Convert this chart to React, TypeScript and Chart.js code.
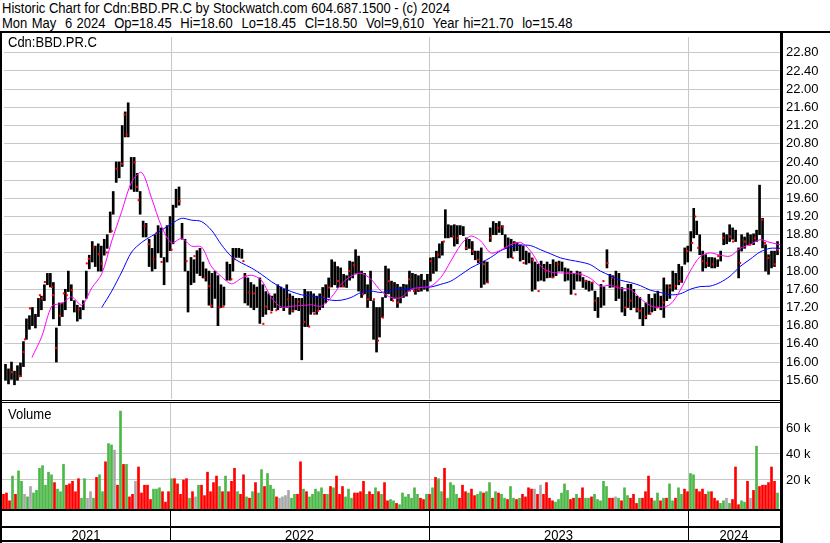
import React, { useEffect, useRef } from "react";
import { Chart, registerables } from "chart.js";
Chart.register(...registerables);

const TITLE = "Historic Chart for Cdn:BBD.PR.C by Stockwatch.com 604.687.1500 - (c) 2024";
const QUOTE = "Mon May  6 2024  Op=18.45  Hi=18.60  Lo=18.45  Cl=18.50  Vol=9,610  Year hi=21.70  lo=15.48";
const SYMBOL = "Cdn:BBD.PR.C";
const VOLUME_LABEL = "Volume";

// x axis in trading-day units
const DAY_MAX = 778;
const BAR_STEP = 3;
const YEAR_STARTS = [0, 168, 427, 686];
const YEAR_LABELS = ["2021", "2022", "2023", "2024"];

const PRICE_MIN = 15.188;
const PRICE_MAX = 23.147;
const PRICE_TICKS = [15.6, 16.0, 16.4, 16.8, 17.2, 17.6, 18.0, 18.4, 18.8, 19.2, 19.6, 20.0, 20.4, 20.8, 21.2, 21.6, 22.0, 22.4, 22.8];
const VOL_MIN = -2310;
const VOL_MAX = 79230;
const VOL_TICKS = [20000, 40000, 60000];

const lows = [
  15.60, 15.52, 15.62, 15.50, 15.60, 15.68, 15.90, 16.50, 16.72, 16.80,
  16.75, 17.00, 17.15, 17.35, 17.70, 17.65, 16.95, 16.00, 16.80, 17.00,
  17.15, 17.55, 17.35, 17.10, 16.90, 16.95, 17.15, 17.40, 18.05, 18.20,
  18.10, 18.00, 18.00, 18.35, 18.50, 18.85, 19.25, 19.95, 20.05, 20.30,
  20.95, 20.95, 19.80, 19.75, 19.75, 19.25, 18.75, 18.75, 18.10, 18.00,
  18.05, 18.40, 18.30, 17.70, 18.20, 18.45, 18.60, 19.40, 19.45, 18.70,
  18.00, 17.10, 17.70, 17.75, 17.95, 17.90, 17.85, 17.78, 17.25, 17.20,
  17.40, 16.80, 17.20, 17.25, 17.80, 17.80, 18.00, 18.30, 18.30, 18.28,
  17.30, 17.25, 17.20, 17.15, 17.20, 16.85, 17.00, 17.05, 17.15, 17.13,
  17.20, 17.15, 17.20, 17.13, 17.20, 17.05, 17.10, 17.15, 17.13, 16.05,
  16.78, 16.78, 17.05, 17.10, 17.05, 17.15, 17.20, 17.30, 17.42, 17.65,
  17.70, 17.64, 17.65, 17.65, 17.64, 17.80, 17.85, 17.95, 17.56, 17.42,
  17.50, 17.20, 17.35, 16.50, 16.22, 16.55, 16.98, 17.42, 17.50, 17.35,
  17.40, 17.20, 17.30, 17.42, 17.45, 17.56, 17.60, 17.49, 17.55, 17.56,
  17.60, 17.56, 17.78, 17.95, 18.00, 18.29, 18.35, 18.73, 18.73, 18.75,
  18.55, 18.60, 18.80, 18.78, 18.47, 18.50, 18.36, 18.25, 18.18, 17.64,
  17.71, 17.75, 18.65, 18.80, 18.80, 18.85, 18.80, 18.51, 18.29, 18.30,
  18.44, 18.45, 18.22, 18.25, 18.15, 18.18, 17.56, 17.60, 17.78, 17.80,
  17.78, 17.85, 17.86, 17.86, 17.90, 18.00, 18.00, 17.78, 17.80, 17.49,
  17.60, 17.78, 17.78, 17.64, 17.60, 17.56, 17.58, 17.13, 16.98, 17.20,
  17.25, 18.07, 17.64, 17.65, 17.35, 17.40, 17.10, 17.02, 17.20, 17.15,
  17.20, 17.10, 16.95, 16.80, 16.95, 17.05, 17.10, 17.13, 17.20, 17.15,
  16.98, 17.35, 17.40, 17.56, 17.60, 17.70, 17.75, 18.15, 18.20, 18.44,
  18.73, 18.80, 18.36, 18.00, 18.07, 18.10, 18.07, 18.07, 18.10, 18.22,
  18.58, 18.60, 18.65, 18.70, 18.65, 17.85, 18.44, 18.50, 18.58, 18.60,
  18.58, 18.65, 18.80, 18.51, 18.00, 17.93, 18.07, 18.10, 18.36,
];

const highs = [
  15.95, 15.85, 16.00, 15.80, 15.92, 15.98, 16.45, 16.95, 17.02, 17.20,
  17.05, 17.40, 17.45, 17.70, 17.95, 17.95, 17.75, 16.75, 17.30, 17.30,
  17.60, 18.00, 17.70, 17.35, 17.25, 17.20, 17.35, 18.00, 18.35, 18.65,
  18.55, 18.60, 18.55, 18.70, 18.80, 19.30, 19.75, 20.40, 20.40, 21.20,
  21.50, 21.70, 20.50, 20.50, 20.15, 19.75, 19.10, 19.05, 18.70, 18.50,
  18.80, 19.00, 18.95, 18.30, 19.00, 19.20, 19.45, 19.80, 19.85, 19.05,
  18.70, 18.00, 18.30, 18.25, 18.45, 18.50, 18.20, 18.05, 18.00, 17.95,
  18.00, 17.90, 17.70, 17.65, 18.20, 18.15, 18.50, 18.50, 18.50, 18.48,
  17.95, 17.85, 17.75, 17.70, 17.65, 17.85, 17.70, 17.55, 17.50, 17.45,
  17.50, 17.70, 17.65, 17.60, 17.70, 17.50, 17.45, 17.40, 17.40, 17.40,
  17.60, 17.55, 17.55, 17.50, 17.45, 17.50, 17.64, 17.70, 17.85, 18.25,
  18.20, 18.10, 18.07, 17.93, 17.90, 18.22, 18.20, 18.47, 18.33, 18.00,
  17.95, 17.70, 18.00, 17.35, 17.20, 17.20, 17.42, 18.11, 18.05, 17.78,
  17.75, 17.71, 17.65, 17.71, 17.70, 18.00, 17.95, 17.93, 17.90, 17.93,
  17.80, 17.93, 18.29, 18.30, 18.44, 18.60, 18.65, 19.35, 19.02, 19.00,
  19.02, 19.00, 19.00, 18.98, 18.73, 18.70, 18.65, 18.44, 18.44, 18.51,
  18.22, 18.20, 18.95, 19.09, 19.05, 19.09, 19.00, 18.80, 18.73, 18.70,
  18.65, 18.62, 18.58, 18.55, 18.44, 18.40, 18.29, 18.20, 18.15, 18.22,
  18.15, 18.20, 18.15, 18.25, 18.20, 18.22, 18.20, 18.07, 18.05, 18.00,
  17.95, 18.00, 17.98, 17.86, 17.80, 17.78, 17.75, 17.56, 17.42, 17.71,
  17.65, 18.47, 17.93, 17.90, 18.00, 17.95, 17.64, 17.55, 17.71, 17.71,
  17.60, 17.45, 17.42, 17.20, 17.30, 17.49, 17.40, 17.50, 17.56, 17.45,
  17.85, 17.70, 17.70, 18.00, 17.95, 18.15, 18.10, 18.51, 18.55, 18.87,
  19.38, 19.10, 18.80, 18.44, 18.36, 18.30, 18.30, 18.29, 18.25, 18.44,
  18.84, 18.80, 19.02, 18.95, 18.90, 18.51, 18.80, 18.75, 18.84, 18.80,
  18.82, 18.90, 19.89, 19.16, 18.58, 18.36, 18.44, 18.44, 18.65,
];

// red close markers: trading-day position and price
const markDays = [
  8, 16, 20, 21, 26, 36, 38, 41, 48, 49, 52, 56, 60, 63, 68, 75, 83, 85, 90, 95,
  98, 103, 108, 113, 118, 121, 123, 131, 133, 135, 141, 145, 150, 153,
  158, 168, 176, 183, 191, 201, 206, 208, 216, 220, 228, 231, 240, 242, 246, 251,
  260, 263, 268, 273, 285, 290, 295, 301, 306, 311, 315,
  321, 326, 335, 340, 346, 351, 360, 365, 371, 375, 380, 386, 390, 395, 406, 411,
  416, 428, 435, 441, 450, 455, 463, 470, 475,
  481, 485, 488, 495, 500, 503, 510, 513, 521, 530, 536, 543, 550, 555, 565, 573,
  578, 583, 590, 593, 601, 605, 610, 615, 623, 628, 635,
  638, 643, 648, 655, 661, 668, 673, 678, 685, 690, 693, 696, 700, 705, 711, 716,
  721, 728, 731, 738, 743, 748, 753, 760, 763, 766, 773, 776,
];
const markPrices = [
  15.78, 15.69, 16.22, 16.50, 17.18, 17.47, 17.40, 17.76, 17.65, 17.47, 16.31, 17.02, 17.51, 17.47, 17.58, 17.15, 18.17, 18.27, 18.52, 18.37,
  18.16, 18.41, 18.88, 20.25, 20.36, 21.44, 21.00, 20.39, 19.85, 19.56, 18.99, 18.59, 18.27, 18.84,
  18.20, 18.47, 19.54, 18.22, 18.33, 17.86, 17.67, 17.24, 17.20, 17.22, 17.82, 18.26, 18.22, 17.89, 17.53, 17.51,
  16.84, 17.22, 17.09, 17.14, 17.38, 17.13, 17.33, 16.88, 16.78, 17.06, 17.13,
  17.42, 17.64, 17.78, 17.67, 18.00, 18.13, 17.49, 17.38, 17.38, 16.47, 16.98, 17.78, 17.35, 17.31, 17.82, 17.56,
  17.60, 18.22, 18.36, 18.65, 18.76, 18.73, 18.51, 18.44, 18.25,
  18.15, 17.75, 18.73, 18.95, 18.98, 18.51, 18.29, 18.62, 18.18, 18.25, 17.56, 18.00, 17.86, 18.15, 17.96, 17.49,
  17.93, 17.78, 17.75, 17.35, 17.78, 18.18, 17.86, 17.67, 17.20, 17.35, 17.16,
  17.13, 17.00, 17.06, 17.20, 17.31, 17.64, 17.67, 17.78, 18.44, 18.62, 19.20, 18.51, 18.22, 18.18, 18.15, 18.33,
  18.73, 18.76, 18.65, 18.18, 18.65, 18.58, 18.73, 19.13, 18.62, 18.29, 18.15, 18.47,
];

// volume in thousands, with up (g) / down (r) / unchanged (s) colour codes
const volumeK = [
  9, 10, 4, 23, 9, 27, 19, 9, 7, 15,
  10, 12, 29, 31, 16, 26, 24, 18, 13, 11,
  32, 16, 17, 19, 11, 21, 6, 21, 6, 11,
  6, 22, 24, 11, 34, 48, 47, 43, 16, 73,
  32, 32, 7, 9, 19, 30, 10, 16, 16, 5,
  13, 13, 14, 11, 3, 11, 21, 21, 17, 9,
  20, 21, 6, 11, 7, 16, 16, 8, 26, 11,
  18, 23, 15, 11, 23, 11, 19, 29, 11, 9,
  24, 7, 6, 11, 18, 10, 28, 15, 25, 16,
  13, 7, 6, 7, 8, 12, 6, 9, 9, 34,
  13, 11, 7, 9, 13, 11, 14, 9, 9, 15,
  14, 23, 9, 15, 7, 13, 6, 10, 10, 11,
  19, 9, 11, 9, 14, 11, 9, 18, 4, 5,
  4, 2, 1, 10, 7, 9, 6, 14, 9, 6,
  5, 9, 9, 14, 22, 21, 11, 29, 6, 18,
  16, 9, 6, 16, 11, 10, 13, 8, 9, 11,
  10, 11, 18, 6, 11, 10, 9, 6, 5, 15,
  6, 5, 6, 9, 7, 14, 13, 13, 9, 16,
  9, 18, 6, 4, 3, 5, 10, 17, 12, 5,
  6, 9, 6, 14, 6, 6, 7, 9, 5, 4,
  19, 15, 6, 6, 7, 6, 4, 14, 8, 6,
  9, 2, 6, 6, 11, 23, 6, 4, 10, 4,
  6, 6, 17, 4, 6, 14, 9, 13, 11, 25,
  24, 13, 11, 13, 9, 11, 11, 6, 4, 2,
  4, 6, 2, 5, 30, 1, 4, 3, 19, 6,
  12, 46, 15, 16, 16, 18, 30, 19, 10,
];

const volumeDir = [
  "r", "r", "r", "g", "r", "g", "g", "s", "g", "s",
  "g", "g", "g", "g", "g", "g", "g", "r", "g", "g",
  "g", "r", "r", "r", "r", "r", "g", "g", "s", "s",
  "g", "r", "g", "g", "r", "g", "g", "s", "r", "g",
  "r", "g", "r", "r", "s", "r", "r", "r", "r", "r",
  "g", "g", "g", "r", "r", "r", "g", "r", "r", "r",
  "r", "r", "g", "r", "s", "g", "r", "r", "r", "r",
  "r", "r", "g", "r", "g", "r", "r", "r", "g", "r",
  "r", "g", "r", "g", "r", "g", "g", "r", "g", "g",
  "g", "r", "s", "s", "s", "s", "g", "g", "r", "r",
  "g", "r", "g", "g", "g", "g", "g", "r", "g", "r",
  "g", "r", "r", "r", "g", "g", "g", "r", "r", "r",
  "r", "g", "r", "r", "g", "r", "g", "r", "r", "g",
  "g", "r", "g", "g", "g", "g", "g", "g", "g", "r",
  "r", "g", "r", "g", "r", "g", "g", "r", "g", "g",
  "g", "g", "r", "r", "r", "g", "r", "r", "g", "g",
  "r", "g", "g", "r", "g", "r", "g", "g", "r", "g",
  "g", "r", "g", "r", "r", "r", "r", "s", "r", "s",
  "r", "r", "r", "r", "g", "g", "g", "g", "g", "r",
  "r", "g", "r", "r", "g", "g", "r", "g", "g", "g",
  "g", "g", "r", "r", "s", "g", "r", "g", "g", "r",
  "r", "r", "g", "r", "r", "r", "r", "g", "g", "r",
  "g", "r", "g", "g", "r", "g", "g", "r", "r", "g",
  "g", "r", "r", "r", "r", "g", "r", "r", "r", "g",
  "g", "s", "g", "r", "r", "r", "g", "g", "r", "s",
  "r", "g", "r", "r", "r", "r", "r", "r", "g",
];

// moving averages, sampled every 10 trading days
const MA_SHORT_START = 28;
const MA_LONG_START = 98;
const MA_STEP = 10;
const maShort = [
  16.10, 16.57, 17.23, 17.29, 17.43, 17.25, 17.63, 17.94, 18.66, 19.31,
  19.96, 20.17, 19.60, 18.98, 18.62, 18.72, 18.55, 18.53, 18.10, 17.88,
  17.72, 17.84, 17.91, 17.80, 17.42, 17.21, 17.23, 17.24, 17.26, 17.23,
  17.42, 17.71, 17.89, 17.95, 17.82, 17.56, 17.42, 17.42, 17.60, 17.64,
  17.67, 17.86, 18.22, 18.58, 18.77, 18.66, 18.40, 18.46, 18.58, 18.63,
  18.44, 18.11, 17.98, 17.96, 17.95, 17.93, 17.84, 17.67, 17.69, 17.62,
  17.60, 17.40, 17.24, 17.20, 17.27, 17.58, 18.00, 18.32, 18.40, 18.35,
  18.33, 18.50, 18.58, 18.69, 18.63, 18.58,
];
const maLong = [
  17.20, 17.56, 17.98, 18.42, 18.63, 18.77, 18.90, 19.04, 19.16, 19.12,
  19.09, 18.90, 18.58, 18.32, 18.18, 18.07, 17.93, 17.77, 17.64, 17.55,
  17.48, 17.45, 17.42, 17.36, 17.36, 17.42, 17.53, 17.56, 17.53, 17.58,
  17.60, 17.62, 17.64, 17.65, 17.71, 17.78, 17.92, 18.07, 18.18, 18.30,
  18.45, 18.53, 18.57, 18.56, 18.47, 18.38, 18.29, 18.24, 18.20, 18.14,
  18.00, 17.90, 17.80, 17.75, 17.68, 17.58, 17.53, 17.48, 17.50, 17.60,
  17.66, 17.67, 17.75, 17.89, 18.10, 18.26, 18.42, 18.50, 18.50,
];

const FONT = '"Liberation Sans", Arial, sans-serif';
const DIR_COLORS: Record<string, string> = { g: "#4cb848", r: "#ff0000", s: "#a8a8a8" };
const GRID = "#c8c8c8";

const xScaleOptions = (): any => ({
  type: "linear",
  min: 0,
  max: DAY_MAX,
  offset: false,
  afterBuildTicks: (s: any) => {
    s.ticks = YEAR_STARTS.slice(1).map((v) => ({ value: v }));
  },
  afterFit: (s: any) => {
    s.height = 0;
    s.paddingLeft = 0;
    s.paddingRight = 0;
    s.paddingTop = 0;
    s.paddingBottom = 0;
  },
  ticks: { display: false },
  grid: { color: GRID, drawTicks: false, offset: false, lineWidth: 1 },
  border: { display: false },
});

const yFit = (s: any) => {
  s.width = 50;
  s.paddingTop = 0;
  s.paddingBottom = 0;
  s.paddingLeft = 0;
  s.paddingRight = 0;
};

const framePlugin = (id: string, bottomLines: number[][], band: boolean) => ({
  id,
  afterDraw(chart: any) {
    const ctx = chart.ctx;
    const ca = chart.chartArea;
    const H = chart.height;
    ctx.save();
    ctx.fillStyle = "#000";
    ctx.fillRect(0, 0, 2, H);
    ctx.fillRect(ca.right, 0, 3, H);
    bottomLines.forEach(([y, h]) => ctx.fillRect(0, y, ca.right, h));
    if (band) {
      const xs = chart.scales.x;
      ctx.font = "13px " + FONT;
      ctx.textAlign = "center";
      ctx.textBaseline = "alphabetic";
      YEAR_STARTS.forEach((d, k) => {
        const x0 = xs.getPixelForValue(d);
        const x1 = xs.getPixelForValue(k + 1 < YEAR_STARTS.length ? YEAR_STARTS[k + 1] : DAY_MAX);
        if (k > 0) ctx.fillRect(Math.round(x0), ca.bottom + 2, 1, 31);
        ctx.save();
        ctx.translate((x0 + x1) / 2, ca.bottom + 30.5);
        ctx.scale(1, 1.15);
        ctx.fillText(YEAR_LABELS[k], 0, 0);
        ctx.restore();
      });
    }
    ctx.restore();
  },
});

export default function App() {
  const priceRef = useRef<HTMLCanvasElement>(null);
  const volRef = useRef<HTMLCanvasElement>(null);

  useEffect(() => {
    const priceChart = new Chart(priceRef.current as HTMLCanvasElement, {
      type: "bar",
      data: {
        datasets: [
          {
            type: "line",
            data: maShort.map((v, k) => ({ x: MA_SHORT_START + k * MA_STEP, y: v })),
            borderColor: "#ff00ff",
            borderWidth: 1,
            pointRadius: 0,
            tension: 0.3,
            order: 0,
          } as any,
          {
            type: "line",
            data: maLong.map((v, k) => ({ x: MA_LONG_START + k * MA_STEP, y: v })),
            borderColor: "#0000ff",
            borderWidth: 1,
            pointRadius: 0,
            tension: 0.3,
            order: 1,
          } as any,
          {
            type: "scatter",
            data: markDays.map((d, k) => ({ x: d, y: markPrices[k] })),
            pointStyle: "rect",
            pointRadius: 1.45,
            backgroundColor: "#ff0000",
            borderWidth: 0,
            order: 2,
          } as any,
          {
            type: "bar",
            data: lows.map((lo, i) => ({ x: i * BAR_STEP + 1.5, y: [lo, highs[i]] })),
            backgroundColor: "#000",
            borderWidth: 0,
            barThickness: 2,
            order: 3,
          } as any,
        ],
      },
      options: {
        responsive: false,
        animation: false,
        devicePixelRatio: 1,
        events: [],
        layout: { padding: { left: 2, right: 0, top: 0, bottom: 3 } },
        plugins: { legend: { display: false }, tooltip: { enabled: false } },
        scales: {
          x: xScaleOptions(),
          y: {
            type: "linear",
            position: "right",
            min: PRICE_MIN,
            max: PRICE_MAX,
            afterBuildTicks: (s: any) => {
              s.ticks = PRICE_TICKS.map((v) => ({ value: v }));
            },
            afterFit: yFit,
            ticks: {
              callback: (v: any) => Number(v).toFixed(2),
              color: "#000",
              padding: 6,
              autoSkip: false,
              font: { family: FONT, size: 13 },
            },
            grid: { color: GRID, drawTicks: false },
            border: { display: false },
          },
        },
      } as any,
      plugins: [framePlugin("priceFrame", [[367, 1], [369, 1]], false)],
    });

    const volChart = new Chart(volRef.current as HTMLCanvasElement, {
      type: "bar",
      data: {
        datasets: [
          {
            data: volumeK.map((v, i) => ({ x: i * BAR_STEP + 1.5, y: v * 1000 })),
            backgroundColor: volumeDir.map((d) => DIR_COLORS[d]),
            borderWidth: 0,
            barThickness: 2,
            base: VOL_MIN,
          } as any,
        ],
      },
      options: {
        responsive: false,
        animation: false,
        devicePixelRatio: 1,
        events: [],
        layout: { padding: { left: 2, right: 0, top: 0, bottom: 34 } },
        plugins: { legend: { display: false }, tooltip: { enabled: false } },
        scales: {
          x: xScaleOptions(),
          y: {
            type: "linear",
            position: "right",
            min: VOL_MIN,
            max: VOL_MAX,
            afterBuildTicks: (s: any) => {
              s.ticks = VOL_TICKS.map((v) => ({ value: v }));
            },
            afterFit: yFit,
            ticks: {
              callback: (v: any) => Math.round(Number(v) / 1000) + " k",
              color: "#000",
              padding: 6,
              autoSkip: false,
              font: { family: FONT, size: 13 },
            },
            grid: { color: GRID, drawTicks: false },
            border: { display: false },
          },
        },
      } as any,
      plugins: [framePlugin("volFrame", [[106, 2], [123, 2], [137, 2]], true)],
    });

    return () => {
      priceChart.destroy();
      volChart.destroy();
    };
  }, []);

  const text: React.CSSProperties = {
    position: "absolute",
    fontFamily: FONT,
    fontSize: 13,
    lineHeight: "13px",
    whiteSpace: "pre",
    transform: "scaleY(1.15)",
    transformOrigin: "0 0",
    color: "#000",
    margin: 0,
  };

  return (
    <div style={{ position: "absolute", left: 0, top: 0, width: 830, height: 543, background: "#fff", overflow: "hidden" }}>
      <div style={{ ...text, left: 2, top: 0 }}>{TITLE}</div>
      <div style={{ ...text, left: 2, top: 15, wordSpacing: "0.75px" }}>{QUOTE}</div>
      <div style={{ position: "absolute", left: 0, top: 31, width: 830, height: 2, background: "#000" }} />
      <canvas
        ref={priceRef}
        width={830}
        height={370}
        style={{ position: "absolute", left: 0, top: 33, width: 830, height: 370, display: "block" }}
      />
      <canvas
        ref={volRef}
        width={830}
        height={140}
        style={{ position: "absolute", left: 0, top: 403, width: 830, height: 140, display: "block" }}
      />
      <div style={{ ...text, left: 8, top: 34 }}>{SYMBOL}</div>
      <div style={{ ...text, left: 8, top: 406 }}>{VOLUME_LABEL}</div>
    </div>
  );
}
